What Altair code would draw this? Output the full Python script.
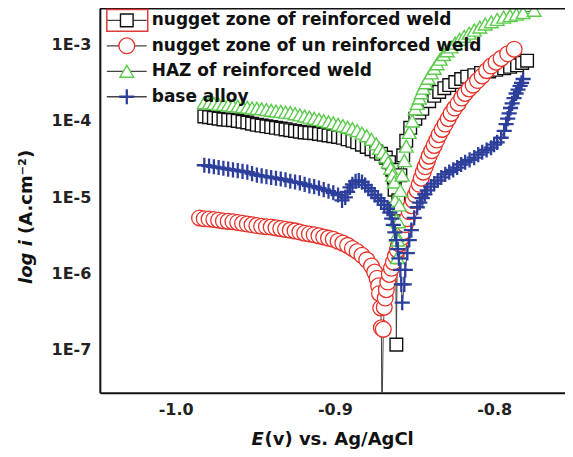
import altair as alt
import pandas as pd

# ---------------- data (E in V vs Ag/AgCl, log10 of current density A/cm2) ----------------
series_names = [
    "nugget zone of reinforced weld",
    "nugget zone of un reinforced weld",
    "HAZ of reinforced weld",
    "base alloy",
]
series_colors = ["#111111", "#e5332a", "#5bcb4c", "#2c3f9c"]

nugget_reinforced = [
    (-0.982, -3.94), (-0.979, -3.95), (-0.976, -3.96), (-0.973, -3.97), (-0.970, -3.98),
    (-0.967, -3.985), (-0.964, -3.99), (-0.961, -4.00), (-0.958, -4.01), (-0.955, -4.02),
    (-0.952, -4.035), (-0.949, -4.05), (-0.946, -4.06), (-0.943, -4.07), (-0.940, -4.08),
    (-0.937, -4.09), (-0.934, -4.10), (-0.931, -4.11), (-0.928, -4.12), (-0.925, -4.13),
    (-0.922, -4.14), (-0.919, -4.15), (-0.916, -4.155), (-0.913, -4.16), (-0.910, -4.17),
    (-0.907, -4.18), (-0.904, -4.19), (-0.901, -4.20), (-0.898, -4.21), (-0.895, -4.22),
    (-0.892, -4.24), (-0.889, -4.26), (-0.886, -4.28), (-0.883, -4.31), (-0.880, -4.34),
    (-0.877, -4.37), (-0.874, -4.40), (-0.871, -4.43), (-0.868, -4.48), (-0.866, -4.54),
    (-0.864, -4.64), (-0.863, -4.74), (-0.8625, -4.90), (-0.862, -5.15), (-0.8614, -6.93),
    (-0.8608, -5.69), (-0.8602, -5.04), (-0.8589, -4.71), (-0.8571, -4.45), (-0.8552, -4.26),
    (-0.8527, -4.09), (-0.8495, -3.97), (-0.8470, -3.89), (-0.8451, -3.84), (-0.8408, -3.74),
    (-0.8376, -3.67), (-0.8345, -3.62), (-0.8313, -3.57), (-0.8282, -3.53), (-0.8244, -3.49),
    (-0.8207, -3.45), (-0.8169, -3.42), (-0.8125, -3.40), (-0.8082, -3.37), (-0.8031, -3.35),
    (-0.7987, -3.33), (-0.7937, -3.31), (-0.7900, -3.29), (-0.7856, -3.27), (-0.7824, -3.24),
    (-0.7793, -3.21),
]

nugget_unreinforced = [
    (-0.985, -5.27), (-0.982, -5.28), (-0.979, -5.285), (-0.976, -5.29), (-0.973, -5.30),
    (-0.970, -5.31), (-0.967, -5.315), (-0.964, -5.32), (-0.961, -5.33), (-0.958, -5.34),
    (-0.955, -5.35), (-0.952, -5.36), (-0.949, -5.37), (-0.946, -5.38), (-0.943, -5.385),
    (-0.940, -5.39), (-0.937, -5.40), (-0.934, -5.41), (-0.931, -5.42), (-0.928, -5.43),
    (-0.925, -5.44), (-0.922, -5.455), (-0.919, -5.47), (-0.916, -5.48), (-0.913, -5.49),
    (-0.910, -5.505), (-0.907, -5.52), (-0.904, -5.535), (-0.901, -5.55), (-0.898, -5.575),
    (-0.895, -5.60), (-0.892, -5.63), (-0.889, -5.67), (-0.886, -5.71), (-0.883, -5.76),
    (-0.880, -5.82), (-0.877, -5.90), (-0.875, -5.98), (-0.8735, -6.06), (-0.8725, -6.16),
    (-0.872, -6.26), (-0.8712, -6.45), (-0.8708, -6.71), (-0.8705, -8.0),
    (-0.8696, -6.73), (-0.8690, -6.44), (-0.8684, -6.32), (-0.8677, -6.21), (-0.8668, -6.11),
    (-0.8658, -6.01), (-0.8645, -5.93), (-0.8633, -5.85), (-0.8620, -5.77), (-0.8608, -5.69),
    (-0.8596, -5.61), (-0.8583, -5.53), (-0.8570, -5.45), (-0.8558, -5.36), (-0.8545, -5.28),
    (-0.8533, -5.19), (-0.8520, -5.11), (-0.8508, -5.04), (-0.8495, -4.97), (-0.8483, -4.91),
    (-0.8470, -4.83), (-0.8458, -4.75), (-0.8445, -4.67), (-0.8433, -4.60), (-0.8420, -4.53),
    (-0.8408, -4.46), (-0.8392, -4.39), (-0.8376, -4.32), (-0.8360, -4.25), (-0.8345, -4.18),
    (-0.8326, -4.11), (-0.8307, -4.04), (-0.8288, -3.97), (-0.8270, -3.90), (-0.8248, -3.83),
    (-0.8226, -3.77), (-0.8204, -3.70), (-0.8182, -3.64), (-0.8157, -3.58), (-0.8132, -3.53),
    (-0.8104, -3.47), (-0.8075, -3.41), (-0.8047, -3.34), (-0.8019, -3.28), (-0.7988, -3.23),
    (-0.7956, -3.18), (-0.7915, -3.12), (-0.7874, -3.06),
]

haz_reinforced = [
    (-0.982, -3.76), (-0.979, -3.765), (-0.976, -3.77), (-0.973, -3.78), (-0.970, -3.785),
    (-0.967, -3.79), (-0.964, -3.80), (-0.961, -3.805), (-0.958, -3.81), (-0.955, -3.82),
    (-0.952, -3.83), (-0.949, -3.835), (-0.946, -3.84), (-0.943, -3.85), (-0.940, -3.86),
    (-0.937, -3.87), (-0.934, -3.875), (-0.931, -3.885), (-0.928, -3.89), (-0.925, -3.905),
    (-0.922, -3.92), (-0.919, -3.935), (-0.916, -3.95), (-0.913, -3.965), (-0.910, -3.98),
    (-0.907, -3.995), (-0.904, -4.01), (-0.901, -4.025), (-0.898, -4.045), (-0.895, -4.06),
    (-0.892, -4.08), (-0.889, -4.10), (-0.886, -4.125), (-0.883, -4.16), (-0.880, -4.195),
    (-0.877, -4.24), (-0.874, -4.30), (-0.872, -4.36), (-0.870, -4.41), (-0.868, -4.47),
    (-0.8665, -4.54), (-0.865, -4.62), (-0.8638, -4.71), (-0.8627, -4.80), (-0.8621, -5.04),
    (-0.8614, -5.30), (-0.8612, -5.50), (-0.8608, -5.79),
    (-0.8605, -5.56), (-0.8602, -5.32), (-0.8596, -5.10), (-0.8589, -4.91), (-0.8577, -4.71),
    (-0.8564, -4.52), (-0.8552, -4.33), (-0.8533, -4.15), (-0.8514, -4.00), (-0.8495, -3.84),
    (-0.8483, -3.77), (-0.8470, -3.70), (-0.8458, -3.63), (-0.8445, -3.57), (-0.8430, -3.50),
    (-0.8414, -3.44), (-0.8395, -3.37), (-0.8376, -3.31), (-0.8358, -3.25), (-0.8339, -3.19),
    (-0.8317, -3.13), (-0.8295, -3.08), (-0.8270, -3.03), (-0.8245, -2.98), (-0.8217, -2.93),
    (-0.8188, -2.89), (-0.8157, -2.85), (-0.8125, -2.81), (-0.8090, -2.77), (-0.8056, -2.73),
    (-0.8018, -2.70), (-0.7981, -2.67), (-0.7940, -2.64), (-0.7900, -2.62), (-0.7860, -2.60),
    (-0.7818, -2.58), (-0.7749, -2.55),
]

base_alloy = [
    (-0.982, -4.58), (-0.979, -4.59), (-0.976, -4.60), (-0.973, -4.61), (-0.970, -4.62),
    (-0.967, -4.63), (-0.964, -4.64), (-0.961, -4.65), (-0.958, -4.66), (-0.955, -4.67),
    (-0.952, -4.69), (-0.949, -4.71), (-0.946, -4.72), (-0.943, -4.73), (-0.940, -4.74),
    (-0.937, -4.75), (-0.934, -4.76), (-0.931, -4.77), (-0.928, -4.79), (-0.925, -4.80),
    (-0.922, -4.81), (-0.919, -4.83), (-0.916, -4.85), (-0.913, -4.86), (-0.910, -4.88),
    (-0.907, -4.90), (-0.904, -4.92), (-0.901, -4.94), (-0.898, -4.97), (-0.8955, -5.04),
    (-0.8935, -5.00), (-0.892, -4.93), (-0.8905, -4.87), (-0.889, -4.83), (-0.887, -4.79),
    (-0.885, -4.78), (-0.883, -4.80), (-0.881, -4.84), (-0.879, -4.88), (-0.877, -4.92),
    (-0.875, -4.97), (-0.873, -5.01), (-0.871, -5.05), (-0.869, -5.10), (-0.867, -5.15),
    (-0.8655, -5.20), (-0.8643, -5.28), (-0.8633, -5.36), (-0.8623, -5.46), (-0.8614, -5.56),
    (-0.8605, -5.68), (-0.8598, -5.80), (-0.8589, -5.95), (-0.8583, -6.14), (-0.8577, -6.38),
    (-0.8564, -6.14), (-0.8558, -5.95), (-0.8545, -5.73), (-0.8533, -5.56), (-0.8520, -5.43),
    (-0.8502, -5.27), (-0.8483, -5.13), (-0.8467, -5.07), (-0.8451, -5.01), (-0.8435, -4.96),
    (-0.8420, -4.91), (-0.8398, -4.86), (-0.8376, -4.82), (-0.8354, -4.78), (-0.8332, -4.74),
    (-0.8307, -4.70), (-0.8282, -4.67), (-0.8257, -4.64), (-0.8232, -4.61), (-0.8207, -4.57),
    (-0.8182, -4.54), (-0.8154, -4.51), (-0.8125, -4.48), (-0.8100, -4.44), (-0.8075, -4.41),
    (-0.8047, -4.38), (-0.8019, -4.35), (-0.8000, -4.31), (-0.7981, -4.28), (-0.7956, -4.22),
    (-0.7937, -4.13), (-0.7925, -4.04), (-0.7915, -3.97), (-0.7906, -3.90), (-0.7897, -3.83),
    (-0.7887, -3.77), (-0.7875, -3.70), (-0.7862, -3.64), (-0.7850, -3.59), (-0.7837, -3.54),
    (-0.7828, -3.50), (-0.7818, -3.45),
]

x_ticks = [-1.0, -0.9, -0.8]
y_ticks = [-7, -6, -5, -4, -3]
x_domain = [-1.0476, -0.7555]
y_domain = [-7.56, -2.525]

all_series = [nugget_reinforced, nugget_unreinforced, haz_reinforced, base_alloy]

# ---------------- build table ----------------
rows = []
for name, pts in zip(series_names, all_series):
    for i, (e, l) in enumerate(pts):
        rows.append({"series": name, "E": e, "logi": l, "idx": i})
df = pd.DataFrame(rows)

W, H = 466, 385
FONT = "DejaVu Sans"

x_enc = alt.X(
    "E:Q",
    scale=alt.Scale(domain=x_domain, nice=False, zero=False),
    axis=alt.Axis(
        values=x_ticks, labelExpr="'-' + format(abs(datum.value), '.1f')", title=None,
        grid=False, ticks=False, tickSize=0, domainColor="#111111", domainWidth=2,
        labelFont=FONT, labelFontWeight="bold", labelFontSize=16, labelColor="#222222",
        labelPadding=9,
    ),
)
y_enc = alt.Y(
    "logi:Q",
    scale=alt.Scale(domain=y_domain, nice=False, zero=False),
    axis=alt.Axis(
        values=y_ticks, labelExpr="'1E' + datum.value", title=None,
        grid=False, ticks=False, tickSize=0, domainColor="#111111", domainWidth=2,
        labelFont=FONT, labelFontWeight="bold", labelFontSize=16, labelColor="#222222",
        labelPadding=9,
    ),
)

base = alt.Chart(df)

lines = base.mark_line(color="#444444", strokeWidth=1, clip=True).encode(
    x=x_enc, y=y_enc, detail="series:N", order="idx:Q"
)

shapes = ["square", "circle", "triangle-up", "M-1,0H1M0,-1V1"]
sizes = [160, 250, 190, 230]
stroke_w = [1.4, 1.3, 1.4, 2.3]

layers = [lines]
for name, col, shp, sz, sw in zip(series_names, series_colors, shapes, sizes, stroke_w):
    layers.append(
        base.transform_filter(alt.datum.series == name)
        .mark_point(shape=shp, size=sz, fill="white", stroke=col, strokeWidth=sw,
                    opacity=1, fillOpacity=1, clip=True)
        .encode(x=x_enc, y=y_enc)
    )

one = pd.DataFrame({"k": [0]})

# top frame line
layers.append(
    alt.Chart(one).mark_rule(color="#111111", strokeWidth=2).encode(
        x=alt.value(0), x2=alt.value(W), y=alt.value(0)
    )
)

# legend
row_y = [12, 37.5, 63, 88.5]
for name, col, shp, sz, sw, yy in zip(series_names, series_colors, shapes, sizes, stroke_w, row_y):
    layers.append(
        alt.Chart(one).mark_rule(color="#444444", strokeWidth=1.3).encode(
            x=alt.value(7), x2=alt.value(47), y=alt.value(yy)
        )
    )
    layers.append(
        alt.Chart(one).mark_point(shape=shp, size=sz, fill="white", stroke=col,
                                  strokeWidth=sw, opacity=1, fillOpacity=1).encode(
            x=alt.value(27), y=alt.value(yy)
        )
    )
    layers.append(
        alt.Chart(one).mark_text(text=name, align="left", baseline="middle", font=FONT,
                                 fontWeight="bold", fontSize=17, color="#111111").encode(
            x=alt.value(52), y=alt.value(yy)
        )
    )

# red selection box around first legend symbol
layers.append(
    alt.Chart(one).mark_rect(filled=False, stroke="#e03a3a", strokeWidth=1.5).encode(
        x=alt.value(7), x2=alt.value(48), y=alt.value(1), y2=alt.value(23)
    )
)

# axis titles (mixed italic / upright)
layers.append(
    alt.Chart(one).mark_text(text="E", align="left", baseline="middle", font=FONT,
                             fontWeight="bold", fontStyle="italic", fontSize=18,
                             color="#111111").encode(x=alt.value(152), y=alt.value(432))
)
layers.append(
    alt.Chart(one).mark_text(text="(v) vs. Ag/AgCl", align="left", baseline="middle", font=FONT,
                             fontWeight="bold", fontSize=18, color="#111111").encode(
        x=alt.value(165), y=alt.value(432))
)
layers.append(
    alt.Chart(one).mark_text(text="log i", align="left", baseline="middle", font=FONT,
                             fontStyle="italic", fontWeight="bold", fontSize=18, angle=270,
                             color="#111111").encode(x=alt.value(-73), y=alt.value(276))
)
layers.append(
    alt.Chart(one).mark_text(text="(A.cm⁻²)", align="left", baseline="middle", font=FONT,
                             fontWeight="bold", fontSize=18, angle=270,
                             color="#111111").encode(x=alt.value(-73), y=alt.value(226))
)

chart = (
    alt.layer(*layers)
    .properties(
        width=W, height=H,
        autosize=alt.AutoSizeParams(type="none"),
        padding={"left": 92, "top": 0, "right": 0, "bottom": 58},
        background="white",
    )
    .configure_view(strokeWidth=0)
)

chart.save("out.html", embed_options={"renderer": "svg", "actions": False})
